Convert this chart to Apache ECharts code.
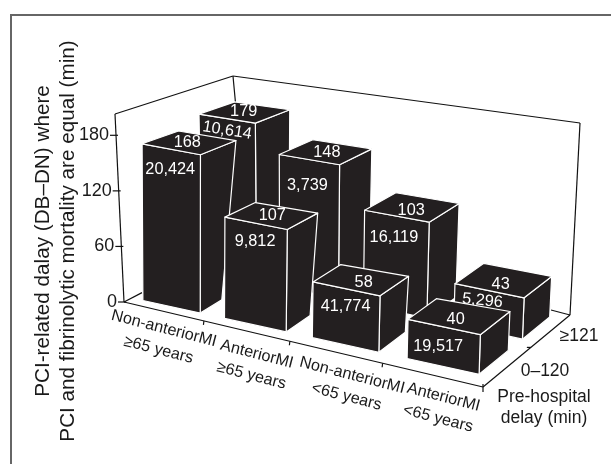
<!DOCTYPE html>
<html><head><meta charset="utf-8">
<style>html,body{margin:0;padding:0;background:#fff}#c{width:611px;height:464px}</style>
<script src="https://cdn.jsdelivr.net/npm/echarts@6/dist/echarts.min.js"></script>
</head><body><div id="c"></div>
<script>
// ---- data ----
const categories = ['Non-anteriorMI\n≥65 years','AnteriorMI\n≥65 years','Non-anteriorMI\n<65 years','AnteriorMI\n<65 years'];
const delayRows = ['0–120','≥121'];
const yTicks = [0,60,120,180];
const pciDelayFront = [168,107,58,40];      // pre-hospital 0–120
const pciDelayBack  = [179,148,103,43];     // pre-hospital ≥121
const patientsFront = [20424,9812,41774,19517];
const patientsBack  = [10614,3739,16119,5296];

// ---- projection / layout ----
const yMax = 203;
const floor = {A:[124,302],B:[483,387],C:[570,315]};
const ceil  = {A:[115,114],B:[489,184],C:[580,123]};
const wallCorner = [233,76];
const rowFloorD = [[182,271],[232,245]];
const rowCeilD  = [[233,76],[231.8,77.9]];
const uBend = 0.164;
const rowSpan = [[0.13,0.47],[0.62,0.93]];
const rowTickZ = 0.55;
const barBandShare = 0.71;
const topNudgeFront = [[-1,2],[2,2],[4,5],[-2,5]];
const topNudgeBack  = [[0,1],[2,3],[0,5],[-2,6]];
const faceDropFront = [[-1,20],[-1,18],[-1,18],[-6,19]];
const faceDropBack  = [[0,12],[-2,26],[-3,21],[-7,10]];
const faceTiltBack  = [-0.16,0,0,-0.10];
const catNudge = [[-2,28],[8,34],[14,34],[9,33]];
const catTilt = -14.5*Math.PI/180;
const FONT = '"Liberation Sans", Arial, sans-serif';
const INK = '#231f20';

function lerp(p,q,t){return [p[0]+(q[0]-p[0])*t,p[1]+(q[1]-p[1])*t];}
function project(u,z,y,row){
  const w = u/(1+uBend*(1-u));
  const fl = lerp(lerp(floor.A,floor.B,w),lerp(rowFloorD[row],floor.C,w),z);
  const ce = lerp(lerp(ceil.A,ceil.B,w),lerp(rowCeilD[row],ceil.C,w),z);
  return lerp(fl,ce,y);
}
const source = [];
pciDelayBack.forEach((v,i)=>source.push([i,v,1,patientsBack[i]]));
pciDelayFront.forEach((v,i)=>source.push([i,v,0,patientsFront[i]]));

function barItem(params,api){
  const cs = params.coordSys;
  const cat = api.value(0), val = api.value(1), row = api.value(2), n = api.value(3);
  const pt = api.coord([cat,val]);
  const uc = (pt[0]-cs.x)/cs.width;
  const y = (cs.y+cs.height-pt[1])/cs.height;
  const hw = api.size([1,0])[0]/cs.width*barBandShare/2;
  const u0=uc-hw,u1=uc+hw,z0=rowSpan[row][0],z1=rowSpan[row][1];
  const FL0=project(u0,z0,0,row),FR0=project(u1,z0,0,row),BR0=project(u1,z1,0,row);
  const FL=project(u0,z0,y,row),FR=project(u1,z0,y,row),BR=project(u1,z1,y,row),BL=project(u0,z1,y,row);
  const face=(pts)=>({type:'polygon',shape:{points:pts},style:{fill:INK,stroke:'#fff',lineWidth:1.2,lineJoin:'round'}});
  const tn=(row?topNudgeBack:topNudgeFront)[cat];
  const topC=[(FL[0]+FR[0]+BR[0]+BL[0])/4-1+tn[0],(FL[1]+FR[1]+BR[1]+BL[1])/4-2+tn[1]];
  const drop=(row?faceDropBack:faceDropFront)[cat];
  const tilt=row?faceTiltBack[cat]:0;
  const txt=(s,p,r)=>({type:'text',x:p[0],y:p[1],rotation:r||0,style:{text:s,fill:'#fff',font:'16.3px '+FONT,textAlign:'center',textVerticalAlign:'middle'}});
  return {type:'group',children:[
    face([FR0,BR0,BR,FR]),
    face([FL0,FR0,FR,FL]),
    face([FL,FR,BR,BL]),
    txt(String(val),topC),
    txt(n.toLocaleString('en-US'),[(FL[0]+FR[0])/2+drop[0],(FL[1]+FR[1])/2+drop[1]],tilt)
  ]};
}
const ln=(a,b,w)=>({type:'line',shape:{x1:a[0],y1:a[1],x2:b[0],y2:b[1]},style:{stroke:'#111',lineWidth:w||1.2}});
const tx=(s,x,y,size,lh,extra)=>Object.assign({type:'text',x:x,y:y,style:{text:s,fill:'#1a1a1a',font:size+'px '+FONT,textAlign:'center',textVerticalAlign:'middle',lineHeight:lh}},extra||{});

function frameItem(params,api){
  if(params.dataIndex!==0) return;
  const cs=params.coordSys, kids=[];
  const F=floor,C=ceil;
  kids.push(ln(F.A,C.A),ln(C.A,wallCorner),ln(wallCorner,C.C),ln(C.C,F.C),ln(F.C,F.B),ln(F.B,F.A));
  kids.push(ln(wallCorner,[238,130]),ln(F.A,[142,292.6]),ln(F.C,[551,310]));
  yTicks.forEach(t=>{
    const py=api.coord([0,t])[1];
    const p=project(0,0,(cs.y+cs.height-py)/cs.height,0);
    kids.push(ln([p[0]-6,p[1]],[p[0]+2,p[1]]));
    const lab=tx(String(t),p[0]-7,p[1],18,22);
    lab.style.textAlign='right';
    kids.push(lab);
  });
  categories.forEach((c,i)=>{
    const pxe=api.coord([i,0])[0]+api.size([1,0])[0]/2;
    const ue=(pxe-cs.x)/cs.width;
    if(i<categories.length-1){const p=project(ue,0,0,0);kids.push(ln(p,[p[0]-0.5,p[1]+4]));}
    const pc=project((api.coord([i,0])[0]-cs.x)/cs.width,0,0,0);
    kids.push(tx(c,pc[0]+catNudge[i][0],pc[1]+catNudge[i][1],16.2,22,{rotation:catTilt}));
  });
  const zt=project(1,rowTickZ,0,0);
  kids.push(ln([zt[0]-4,zt[1]],zt));
  const e=project(1,0,0,0);
  kids.push(ln([e[0],e[1]-3],[e[0],e[1]+5]));
  kids.push(tx(delayRows[1],579,336,17.5,21),tx(delayRows[0],545,371,17.5,21));
  kids.push(tx('Pre-hospital\ndelay (min)',544,407.5,17.5,21));
  kids.push(tx('PCI-related dalay (DB–DN) where',43,241,20.7,24,{rotation:Math.PI/2}));
  kids.push(tx('PCI and fibrinolytic mortality are equal (min)',68,241,20.7,24,{rotation:Math.PI/2}));
  return {type:'group',children:kids};
}

const chart=echarts.init(document.getElementById('c'),null,{renderer:'canvas'});
chart.setOption({
  animation:false,
  backgroundColor:'#fff',
  graphic:[
    {type:'rect',shape:{x:10,y:14,width:601,height:2},style:{fill:'#666'}},
    {type:'rect',shape:{x:10,y:14,width:2,height:450},style:{fill:'#666'}}
  ],
  grid:{left:100,top:60,width:400,height:300,show:false},
  xAxis:{type:'category',data:categories,show:false},
  yAxis:{type:'value',min:0,max:yMax,show:false},
  series:[
    {type:'custom',coordinateSystem:'cartesian2d',renderItem:frameItem,data:source,z:1,silent:true,clip:false,encode:{x:0,y:1}},
    {type:'custom',coordinateSystem:'cartesian2d',renderItem:barItem,data:source,z:2,silent:true,clip:false,encode:{x:0,y:1}}
  ]
});
</script></body></html>
